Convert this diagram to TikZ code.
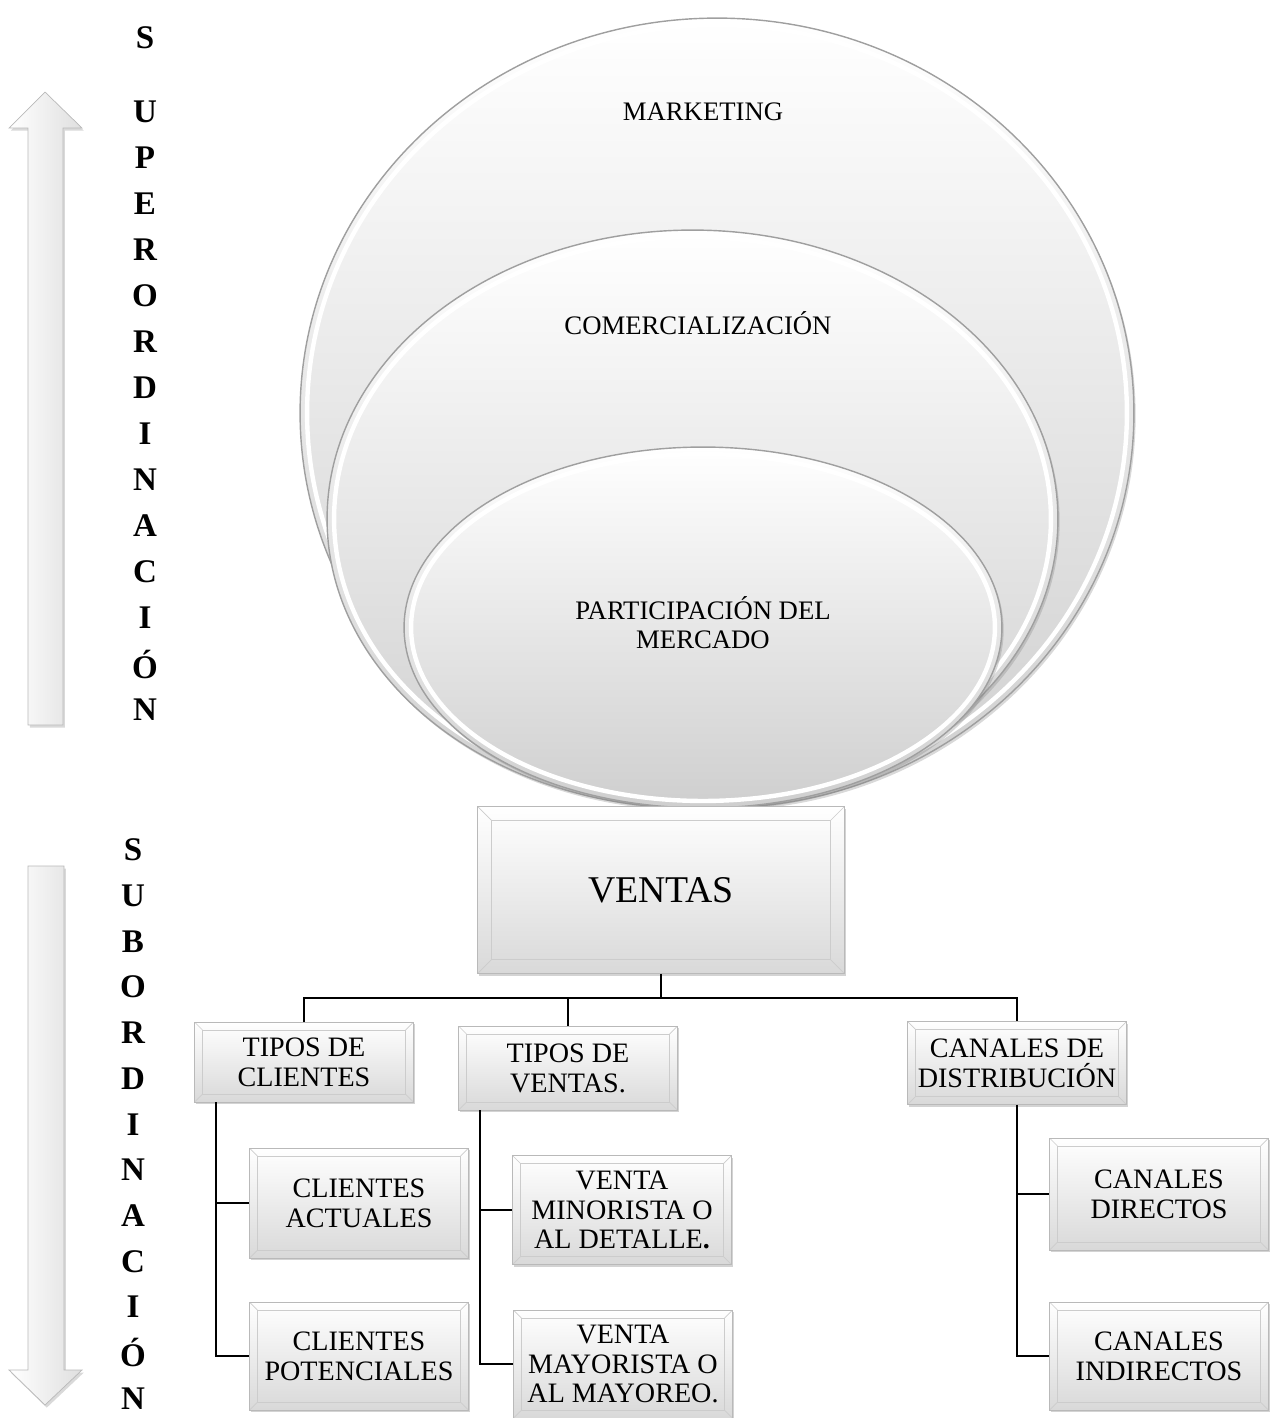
\documentclass[tikz,border=0pt]{standalone}
\usepackage{fontspec}
\setmainfont{Liberation Serif}
\usetikzlibrary{shadows}

\tikzset{
  bevelbox/.style={draw=gray!55, top color=white, bottom color=gray!30,
    align=center, minimum width=4.38cm, inner sep=2pt,
    font=\fontsize{16}{17}\selectfont,
    drop shadow={opacity=0.35, shadow xshift=0.8pt, shadow yshift=-1.4pt},
    path picture={
      \draw[gray!40] ([shift={(#1,-#1)}]path picture bounding box.north west)
        rectangle ([shift={(-#1,#1)}]path picture bounding box.south east);
      \draw[gray!40]
        (path picture bounding box.north west) -- ([shift={(#1,-#1)}]path picture bounding box.north west)
        (path picture bounding box.north east) -- ([shift={(-#1,-#1)}]path picture bounding box.north east)
        (path picture bounding box.south west) -- ([shift={(#1,#1)}]path picture bounding box.south west)
        (path picture bounding box.south east) -- ([shift={(-#1,#1)}]path picture bounding box.south east);
    }},
  bevelbox/.default=4.5pt,
  oval/.style={top color=white, bottom color=gray!38,
    drop shadow={opacity=0.3, shadow xshift=1pt, shadow yshift=-1.5pt}},
  ovaltext/.style={align=center, font=\fontsize{15.2}{16.5}\selectfont},
  letra/.style={font=\fontsize{18.8}{20}\selectfont\bfseries},
  hollowarrow/.style={draw=gray!55, left color=white, right color=gray!25,
    drop shadow={opacity=0.3, shadow xshift=1pt, shadow yshift=-1.5pt}},
  tree/.style={draw=black, line width=1pt},
}

\begin{document}
\begin{tikzpicture}[x=0.02cm, y=-0.02cm]
  \useasboundingbox (0,0) rectangle (1281,1418);

  % nested ovals
  \foreach \cx/\cy/\rx/\ry in {717/413/8.34/7.9, 692.5/519/7.31/5.78, 703/627.5/5.98/3.61} {
    \shade[oval] (\cx,\cy) ellipse [x radius=\rx cm, y radius=\ry cm];
    \draw[gray!75, line width=0.8pt] (\cx,\cy) ellipse [x radius=\rx cm, y radius=\ry cm];
    \draw[white, line width=2.5pt] (\cx,\cy) ellipse [x radius=\rx cm-0.14cm, y radius=\ry cm-0.14cm];
  }
  \node[ovaltext] (marketing) at (703,112) {MARKETING};
  \node[ovaltext] (comercial) at (698,323) {COMERCIALIZACIÓN};
  \node[ovaltext] (participacion) at (703,623) {PARTICIPACIÓN DEL\\MERCADO};

  % boxes
  \node[bevelbox=8pt, minimum width=7.34cm, minimum height=3.34cm,
        font=\fontsize{21.5}{23}\selectfont] (ventas) at (661,890) {VENTAS};
  \node[bevelbox, minimum height=1.6cm] (tclientes) at (304,1062) {TIPOS DE\\CLIENTES};
  \node[bevelbox, minimum height=1.68cm] (tventas) at (568,1068) {TIPOS DE\\VENTAS.};
  \node[bevelbox, minimum height=1.66cm] (canales) at (1017,1063) {CANALES DE\\DISTRIBUCIÓN};
  \node[bevelbox, minimum height=2.2cm] (actuales) at (359,1203) {CLIENTES\\ACTUALES};
  \node[bevelbox, minimum height=2.16cm] (potenciales) at (359,1356) {CLIENTES\\POTENCIALES};
  \node[bevelbox, minimum height=2.18cm] (minorista) at (622,1210) {VENTA\\MINORISTA O\\AL DETALLE\textbf{.}};
  \node[bevelbox, minimum height=2.16cm] (mayorista) at (623,1364) {VENTA\\MAYORISTA O\\AL MAYOREO.};
  \node[bevelbox, minimum height=2.24cm] (directos) at (1159,1194) {CANALES\\DIRECTOS};
  \node[bevelbox, minimum height=2.16cm] (indirectos) at (1159,1356) {CANALES\\INDIRECTOS};

  % connectors
  \coordinate (bus) at (661,998);
  \draw[tree] (ventas.south) -- (bus);
  \draw[tree] (bus) -| (tclientes.north);
  \draw[tree] (bus) -| (tventas.north);
  \draw[tree] (bus) -| (canales.north);
  \draw[tree] ([xshift=22*0.02cm]tclientes.south west) |- (actuales.west);
  \draw[tree] ([xshift=22*0.02cm]tclientes.south west) |- (potenciales.west);
  \draw[tree] ([xshift=22*0.02cm]tventas.south west) |- (minorista.west);
  \draw[tree] ([xshift=22*0.02cm]tventas.south west) |- (mayorista.west);
  \draw[tree] (canales.south) |- (directos.west);
  \draw[tree] (canales.south) |- (indirectos.west);

  % side arrows
  \draw[hollowarrow] (45,92) -- (82,128) -- (63,128) -- (63,725) -- (28,725)
    -- (28,128) -- (9,128) -- cycle;
  \draw[hollowarrow] (28,866) -- (64,866) -- (64,1370) -- (82,1370) -- (45,1405)
    -- (9,1370) -- (28,1370) -- cycle;

  % side words
  \node[letra] (sup0) at (145,38) {S};
  \foreach \l [count=\i from 0] in {U,P,E,R,O,R,D,I,N,A,C,I,Ó,N}
    \node[letra] (sup\i) at (145,112+46*\i) {\l};
  \foreach \l [count=\i from 0] in {S,U,B,O,R,D,I,N,A,C,I,Ó,N}
    \node[letra] (sub\i) at (133,850+45.7*\i) {\l};
\end{tikzpicture}
\end{document}
